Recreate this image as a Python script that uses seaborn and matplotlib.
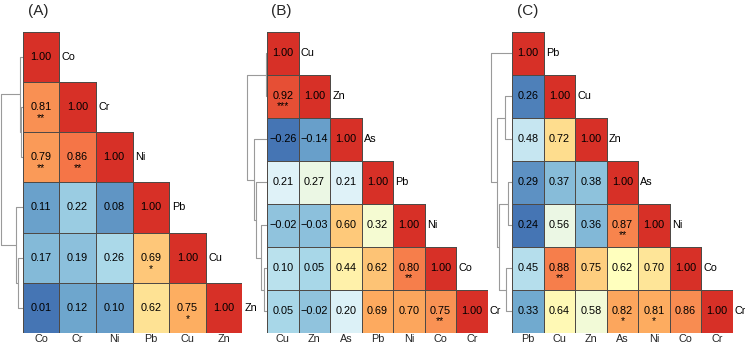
import numpy as np
import pandas as pd
import matplotlib
matplotlib.use("Agg")
import matplotlib.pyplot as plt
import seaborn as sns
from matplotlib.colors import LinearSegmentedColormap, to_rgba

sns.set_style("white")
plt.rcParams["font.family"] = ["Liberation Sans", "DejaVu Sans"]

# ---------------- data ----------------
names_a = ["Co", "Cr", "Ni", "Pb", "Cu", "Zn"]
vals_a = [
    [1.00],
    [0.81, 1.00],
    [0.79, 0.86, 1.00],
    [0.11, 0.22, 0.08, 1.00],
    [0.17, 0.19, 0.26, 0.69, 1.00],
    [0.01, 0.12, 0.10, 0.62, 0.75, 1.00],
]
stars_a = [
    [""],
    ["**", ""],
    ["**", "**", ""],
    ["", "", "", ""],
    ["", "", "", "*", ""],
    ["", "", "", "", "*", ""],
]
# dendrogram merges: (child1, child2, height)
link_a = [(1, 2, 1.3), (0, 6, 2.3), (4, 5, 4.7), (3, 8, 7.0), (7, 9, 21.3)]

names_b = ["Cu", "Zn", "As", "Pb", "Ni", "Co", "Cr"]
vals_b = [
    [1.00],
    [0.92, 1.00],
    [-0.26, -0.14, 1.00],
    [0.21, 0.27, 0.21, 1.00],
    [-0.02, -0.03, 0.60, 0.32, 1.00],
    [0.10, 0.05, 0.44, 0.62, 0.80, 1.00],
    [0.05, -0.02, 0.20, 0.69, 0.70, 0.75, 1.00],
]
stars_b = [
    [""],
    ["***", ""],
    ["", "", ""],
    ["", "", "", ""],
    ["", "", "", "", ""],
    ["", "", "", "", "**", ""],
    ["", "", "", "", "", "**", ""],
]
link_b = [(0, 1, 0.8), (5, 6, 3.4), (4, 8, 6.0), (3, 9, 10.7), (2, 10, 13.4), (7, 11, 20.0)]

names_c = ["Pb", "Cu", "Zn", "As", "Ni", "Co", "Cr"]
vals_c = [
    [1.00],
    [0.26, 1.00],
    [0.48, 0.72, 1.00],
    [0.29, 0.37, 0.38, 1.00],
    [0.24, 0.56, 0.36, 0.87, 1.00],
    [0.45, 0.88, 0.75, 0.62, 0.70, 1.00],
    [0.33, 0.64, 0.58, 0.82, 0.81, 0.86, 1.00],
]
stars_c = [
    [""],
    ["", ""],
    ["", "", ""],
    ["", "", "", ""],
    ["", "", "", "**", ""],
    ["", "**", "", "", "", ""],
    ["", "", "", "*", "*", "", ""],
]
link_c = [(3, 4, 4.0), (5, 6, 6.3), (1, 2, 7.3), (7, 8, 13.3), (9, 10, 15.6), (0, 11, 21.3)]

panel_titles = ["(A)", "(B)", "(C)"]

# ---------------- style ----------------
W, H = 745, 344
cmap = LinearSegmentedColormap.from_list(
    "rdylbu9",
    ["#4575b4", "#74add1", "#abd9e9", "#e0f3f8", "#ffffbf",
     "#fee090", "#fdae61", "#f46d43", "#d73027"])
EDGE = "#4f4a46"

fig = plt.figure(figsize=(W / 100, H / 100), dpi=100)


def fbox(left, top, right, bottom):
    return [left / W, 1 - bottom / H, (right - left) / W, (bottom - top) / H]


def fmt(v):
    s = f"{v:.2f}"
    return s.replace("-", "\u2212")


def draw_panel(names, vals, stars, links, title, heat_left, heat_right,
               title_x, top=31.7, bottom=333.0, dend_w=24):
    n = len(names)
    mat = np.full((n, n), np.nan)
    annot = np.full((n, n), "", dtype=object)
    for i, row in enumerate(vals):
        for j, v in enumerate(row):
            mat[i, j] = v
            annot[i, j] = fmt(v)
    df = pd.DataFrame(mat, index=names, columns=names)
    mask = np.isnan(mat)
    vmin = np.nanmin(mat)

    ax = fig.add_axes(fbox(heat_left, top, heat_right, bottom))
    sns.heatmap(df, mask=mask, cmap=cmap, vmin=vmin, vmax=1.0, cbar=False,
                annot=annot, fmt="", annot_kws={"fontsize": 7.8, "color": "black"},
                linewidths=0.6, linecolor=EDGE, ax=ax, square=False)
    # hide edges of the masked (empty) cells
    mesh = ax.collections[0]
    ec = np.array([to_rgba(EDGE) if not m else (0, 0, 0, 0)
                   for m in mask.ravel()])
    mesh.set_edgecolor(ec)

    ax.set_yticks([])
    ax.set_xticks(np.arange(n) + 0.5)
    ax.set_xticklabels(names, rotation=0, fontsize=7.8)
    ax.tick_params(axis="x", length=0, pad=0.6)
    ax.set_xlabel("")
    ax.set_ylabel("")
    for sp in ax.spines.values():
        sp.set_visible(False)
    # significance stars and diagonal labels
    for i, row in enumerate(stars):
        for j, s in enumerate(row):
            if s:
                ax.text(j + 0.5, i + 0.5 + 0.22, s, ha="center", va="center",
                        fontsize=7.5, color="black")
    for i, nm in enumerate(names):
        ax.text(i + 1.07, i + 0.5, nm, ha="left", va="center", fontsize=7.8,
                color="black", clip_on=False)

    # dendrogram
    dax = fig.add_axes(fbox(heat_left - dend_w, top, heat_left, bottom))
    dax.set_xlim(dend_w, 0)
    dax.set_ylim(n, 0)
    dax.axis("off")
    pos = {i: i + 0.5 for i in range(n)}
    hgt = {i: 0.0 for i in range(n)}
    for k, (a, b, h) in enumerate(links):
        dax.plot([hgt[a], h, h, hgt[b]], [pos[a], pos[a], pos[b], pos[b]],
                 color="#9a9a9a", lw=0.8, solid_capstyle="butt")
        pos[n + k] = (pos[a] + pos[b]) / 2
        hgt[n + k] = h

    fig.text(title_x / W, 1 - 11 / H, title, ha="left", va="center", fontsize=11)


draw_panel(names_a, vals_a, stars_a, link_a, panel_titles[0], 22.7, 242.3, 28)
draw_panel(names_b, vals_b, stars_b, link_b, panel_titles[1], 267.0, 487.7, 271.5)
draw_panel(names_c, vals_c, stars_c, link_c, panel_titles[2], 512.3, 732.7, 517)

fig.savefig("out.png", dpi=100)
